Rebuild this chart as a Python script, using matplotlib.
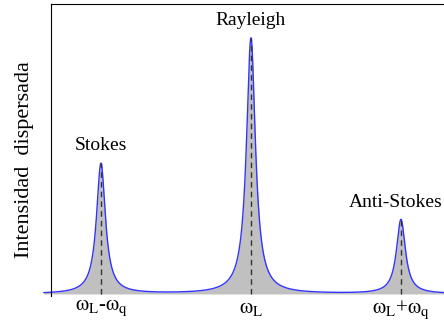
import matplotlib
matplotlib.use("Agg")
import matplotlib.pyplot as plt
import numpy as np

plt.rcParams['font.family'] = ['Liberation Serif', 'DejaVu Serif']
plt.rcParams['mathtext.fontset'] = 'stix'

# peak positions (in units of omega_q, relative to omega_L), heights and widths
centers = [-1.0, 0.0, 1.0]
heights = [0.51, 1.0, 0.29]
widths = [0.036, 0.036, 0.036]
peak_names = ['Stokes', 'Rayleigh', 'Anti-Stokes']
tick_labels = [r'$\mathrm{\omega_L}$-$\mathrm{\omega_q}$', r'$\mathrm{\omega_L}$',
               r'$\mathrm{\omega_L}$+$\mathrm{\omega_q}$']

x = np.linspace(-1.38, 1.35, 3000)
y = np.zeros_like(x)
for c, h, g in zip(centers, heights, widths):
    y += h / (1 + ((x - c) / g) ** 2)

fig = plt.figure(figsize=(4.44, 3.23), dpi=100)
ax = fig.add_axes([51 / 444, 1 - 296 / 323, 1 - 51 / 444, 292 / 323])

ax.fill_between(x, 0, y, color='#c0c0c0', lw=0, clip_on=False)
ax.plot(x, y, color='#3333ff', lw=1.0, clip_on=False)

for c, h, name in zip(centers, heights, peak_names):
    ax.plot([c, c], [0, h], color='#333333', ls=(0, (4, 3)), lw=1.0)
    if name == 'Anti-Stokes':
        # sits against the right edge of the figure
        ax.text(1.277, h + 0.035, name, ha='right', va='bottom', fontsize=14)
    else:
        ax.text(c, h + 0.035, name, ha='center', va='bottom', fontsize=14)

ax.set_xlim(-1.333, 1.287)
ax.set_ylim(-0.008, 1.133)
ax.set_xticks(centers)
ax.set_xticklabels(tick_labels, fontsize=15)
ax.set_yticks([])
ax.tick_params(axis='x', length=0, pad=2)
ax.spines['right'].set_visible(False)
ax.spines['bottom'].set_visible(False)

fig.text(24 / 444, 1 - 160 / 323, 'Intensidad  dispersada', fontsize=16,
         rotation=90, ha='center', va='center')

fig.savefig('out.png', dpi=100)
